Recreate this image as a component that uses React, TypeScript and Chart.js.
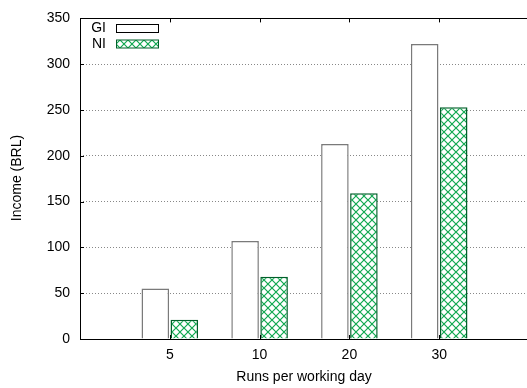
import React, { useEffect, useRef } from "react";
import { Chart, registerables } from "chart.js";

Chart.register(...registerables);

const categories = ["5", "10", "20", "30"];
const giValues = [55, 107, 213, 322];
const niValues = [21, 68, 159, 253];
const yTicks = [0, 50, 100, 150, 200, 250, 300, 350];
const seriesNames = ["GI", "NI"];
const xTitle = "Runs per working day";
const yTitle = "Income (BRL)";

const FONT = "'Liberation Sans', Arial, sans-serif";
const FS = 14;

function makePattern(): CanvasPattern | string {
  const c = document.createElement("canvas");
  c.width = 8;
  c.height = 8;
  const g = c.getContext("2d");
  if (!g) return "#00a050";
  g.fillStyle = "#ffffff";
  g.fillRect(0, 0, 8, 8);
  g.strokeStyle = "#10a850";
  g.lineWidth = 1.2;
  g.beginPath();
  g.moveTo(0, 0);
  g.lineTo(8, 8);
  g.moveTo(8, 0);
  g.lineTo(0, 8);
  g.stroke();
  const p = g.createPattern(c, "repeat");
  return p || "#00a050";
}

export default function App() {
  const ref = useRef<HTMLCanvasElement | null>(null);

  useEffect(() => {
    if (!ref.current) return;
    const pattern = makePattern();
    const labels = ["", ...categories, ""];

    const decor = {
      id: "decor",
      afterDraw(chart: any) {
        const { ctx, chartArea } = chart;
        const x = chart.scales.x;
        const y = chart.scales.y;
        ctx.save();
        ctx.strokeStyle = "#000";
        ctx.lineWidth = 1;
        ctx.beginPath();
        ctx.rect(Math.round(chartArea.left) + 0.5, Math.round(chartArea.top) + 0.5,
          Math.round(chartArea.right - chartArea.left), Math.round(chartArea.bottom - chartArea.top));
        ctx.stroke();
        ctx.beginPath();
        for (const v of yTicks) {
          const py = Math.round(y.getPixelForValue(v)) + 0.5;
          ctx.moveTo(chartArea.left, py);
          ctx.lineTo(chartArea.left + 4, py);
        }
        for (let i = 1; i <= categories.length; i++) {
          const px = Math.round(x.getPixelForValue(i)) + 0.5;
          ctx.moveTo(px, chartArea.top);
          ctx.lineTo(px, chartArea.top + 4);
          ctx.moveTo(px, chartArea.bottom);
          ctx.lineTo(px, chartArea.bottom - 4);
        }
        ctx.stroke();
        ctx.fillStyle = "#000";
        ctx.font = `${FS}px ${FONT}`;
        ctx.textAlign = "center";
        ctx.textBaseline = "middle";
        ctx.fillText(xTitle, 304, 377);
        ctx.translate(17, 178);
        ctx.rotate(-Math.PI / 2);
        ctx.fillText(yTitle, 0, 0);
        ctx.restore();

        ctx.save();
        ctx.font = `${FS}px ${FONT}`;
        ctx.textAlign = "right";
        ctx.textBaseline = "middle";
        const rows = [
          { name: seriesNames[0], fill: "#ffffff", stroke: "#000000", y: 28.5 },
          { name: seriesNames[1], fill: pattern, stroke: "#00602a", y: 44 },
        ];
        for (const r of rows) {
          ctx.fillStyle = "#000";
          ctx.fillText(r.name, 106, r.y);
          ctx.fillStyle = r.fill as any;
          ctx.fillRect(116.5, r.y - 4, 42, 8);
          ctx.strokeStyle = r.stroke;
          ctx.lineWidth = 1;
          ctx.strokeRect(116.5, r.y - 4, 42, 8);
        }
        ctx.restore();
      },
    };

    const chart = new Chart(ref.current, {
      type: "bar",
      data: {
        labels,
        datasets: [
          {
            label: seriesNames[0],
            data: [null, ...giValues, null],
            backgroundColor: "#ffffff",
            borderColor: "#7a7a7a",
            borderWidth: 1.5,
            categoryPercentage: 0.646,
            barPercentage: 0.95,
          },
          {
            label: seriesNames[1],
            data: [null, ...niValues, null],
            backgroundColor: pattern as any,
            borderColor: "#00602a",
            borderWidth: 1.5,
            categoryPercentage: 0.646,
            barPercentage: 0.95,
          },
        ],
      },
      options: {
        responsive: false,
        animation: false,
        layout: { padding: { top: 16, right: 11, left: 0, bottom: 0 } },
        plugins: { legend: { display: false }, tooltip: { enabled: false }, title: { display: false } },
        scales: {
          x: {
            type: "category",
            offset: false,
            grid: { display: false, drawTicks: false },
            border: { display: false },
            ticks: {
              padding: 8,
              color: "#000",
              font: { family: FONT, size: FS },
              maxRotation: 0,
              autoSkip: false,
            },
            afterFit(scale: any) {
              scale.height = 49;
            },
          },
          y: {
            min: 0,
            max: 350,
            afterBuildTicks(scale: any) {
              scale.ticks = yTicks.map((v) => ({ value: v }));
            },
            grid: {
              drawTicks: false,
              color: (c: any) => (c.tick && (c.tick.value === 0 || c.tick.value === 350) ? "rgba(0,0,0,0)" : "#888"),
              lineWidth: 1,
            },
            border: { display: false, dash: [1, 2] },
            ticks: {
              padding: 10,
              color: "#000",
              font: { family: FONT, size: FS },
            },
            afterFit(scale: any) {
              scale.width = 80;
            },
          },
        },
      },
      plugins: [decor],
    });
    return () => chart.destroy();
  }, []);

  return (
    <div style={{ position: "fixed", left: 0, top: 0, width: 527, height: 388, overflow: "hidden", background: "#fff" }}>
      <canvas ref={ref} width={540} height={388} style={{ display: "block" }} />
    </div>
  );
}
